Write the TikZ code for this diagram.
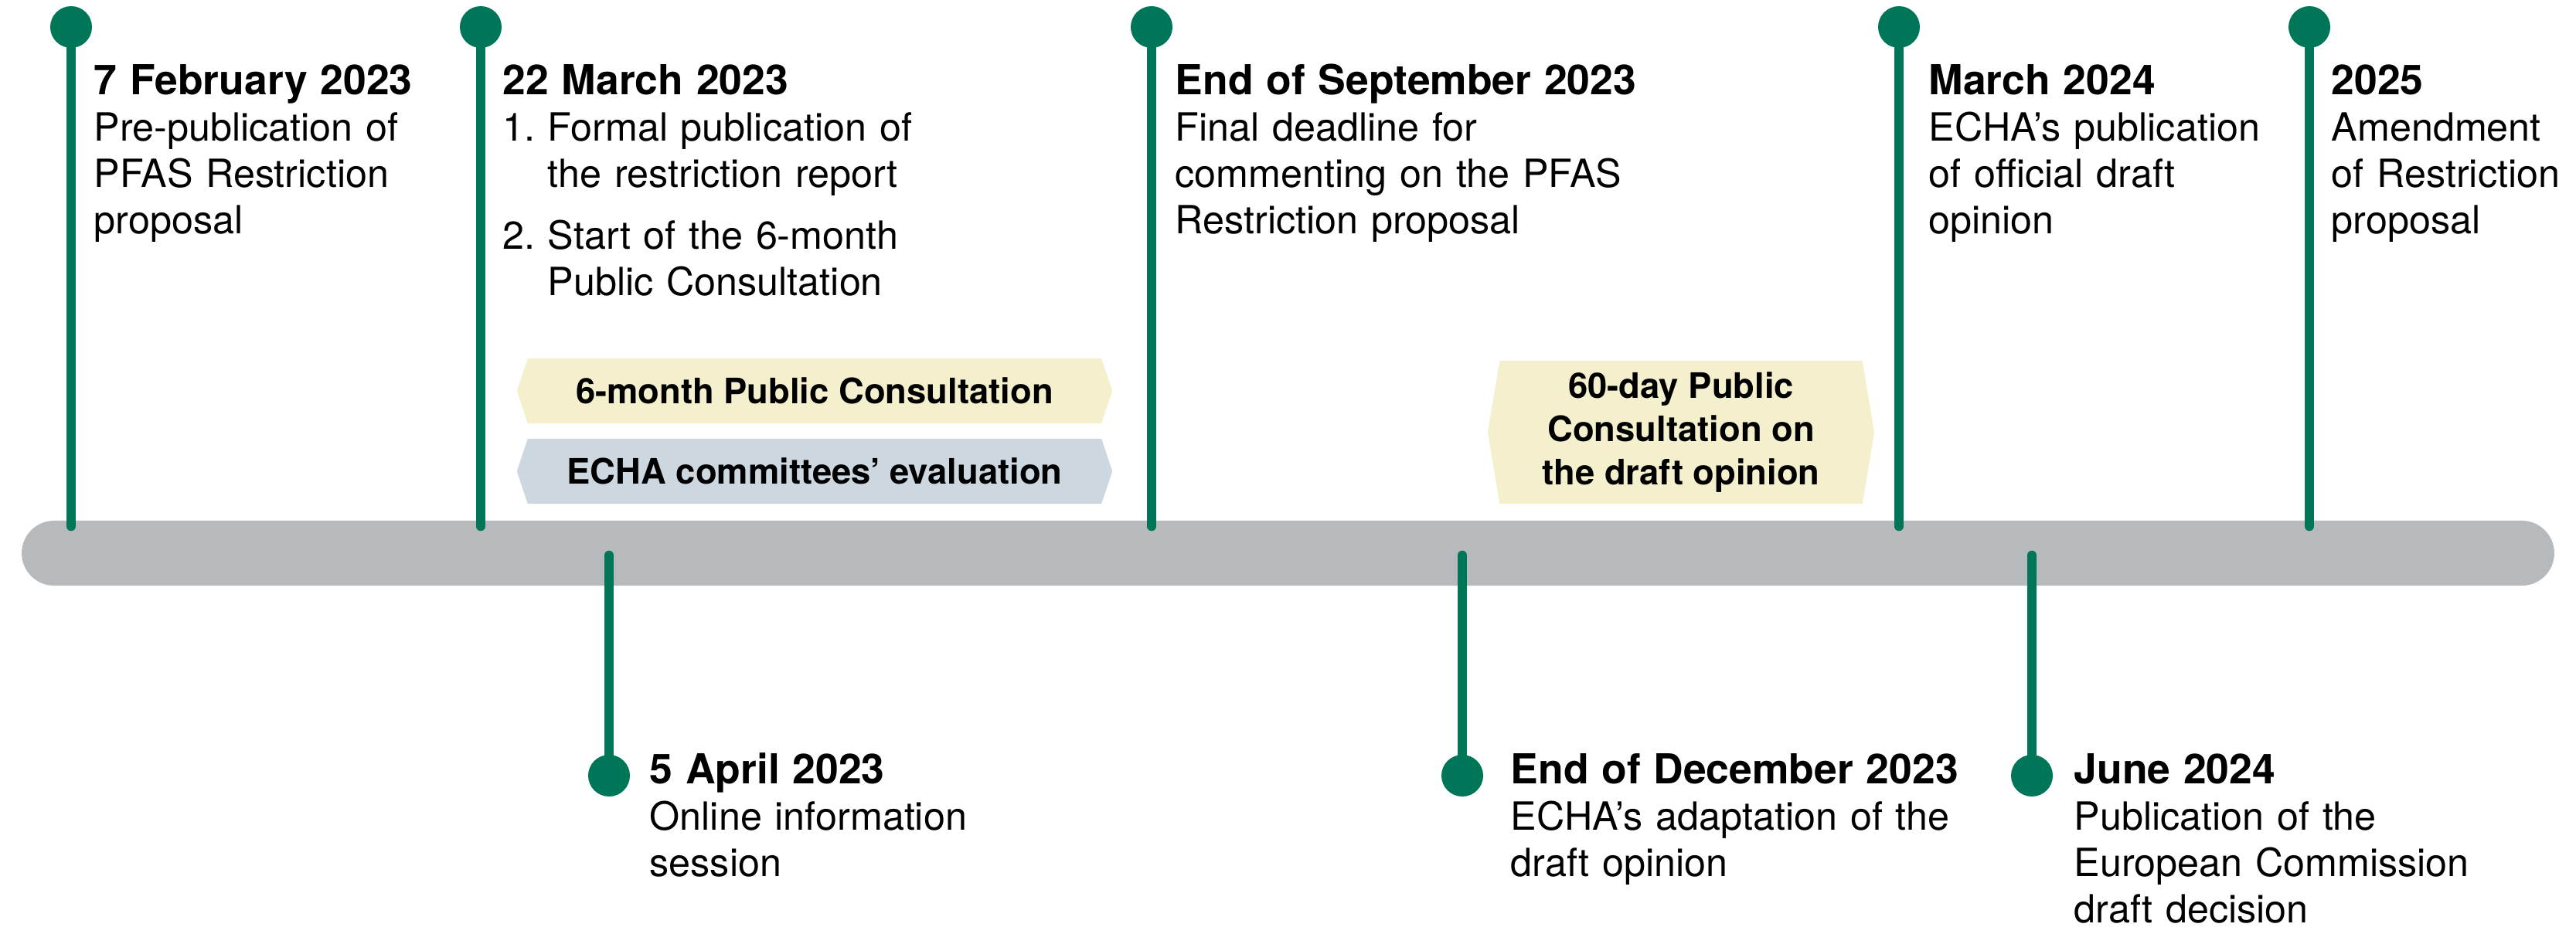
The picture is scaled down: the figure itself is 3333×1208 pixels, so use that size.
\documentclass[tikz,border=0pt]{standalone}
\usepackage{fontspec}
\setmainfont{TeX Gyre Heros}
\usetikzlibrary{shapes.symbols}
\definecolor{echagreen}{RGB}{0,118,89}
\definecolor{bargray}{RGB}{183,186,189}
\definecolor{bandyellow}{RGB}{244,240,205}
\definecolor{bandblue}{RGB}{205,215,224}
\newcommand{\eventdate}[1]{{\fontsize{15.2}{17.07}\selectfont\bfseries #1}}
\tikzset{
  bar/.style={rectangle,fill=bargray,rounded corners=0.42cm,inner sep=0,
    minimum width=32.75cm,minimum height=0.84cm},
  dot/.style={circle,fill=echagreen,inner sep=0,minimum size=0.54cm},
  stem/.style={echagreen,line width=0.12cm,line cap=round},
  event/.style={anchor=base west,inner sep=0,align=left,text width=#1,
    font=\fontsize{14.3}{17.07}\selectfont},
  band/.style={signal,signal to=west and east,inner sep=0,align=center,
    font=\fontsize{12.9}{15.8}\selectfont\bfseries}
}
\begin{document}
\begin{tikzpicture}[x=0.01cm,y=-0.01cm]
\useasboundingbox (0,0) rectangle (3333,1208);
\node[bar] (bar) at (1666.5,716) {};

\node[dot] (feb) at (92,35) {};
\node[dot] (mar) at (622,35) {};
\node[dot] (sep) at (1490,35) {};
\node[dot] (mar24) at (2457,35) {};
\node[dot] (y25) at (2988,35) {};
\node[dot] (apr) at (788,1004) {};
\node[dot] (dec) at (1892,1004) {};
\node[dot] (jun) at (2629,1004) {};

\foreach \d in {feb,mar,sep,mar24,y25}
  \draw[stem] (\d) -- ([yshift=-0.08cm]\d |- bar.north);
\foreach \d in {apr,dec,jun}
  \draw[stem] ([yshift=0.4cm]\d |- bar.south) -- (\d);

\node[event=4.6cm] (feb-text) at (121,122) {\eventdate{7 February 2023}\\Pre-publication of\\PFAS Restriction\\proposal};
\node[event=5.4cm] (mar-text) at (650,122) {\eventdate{22 March 2023}\\\makebox[0.58cm][l]{1.}Formal publication of\\\hspace*{0.58cm}the restriction report\\[0.2cm]\makebox[0.58cm][l]{2.}Start of the 6-month\\\hspace*{0.58cm}Public Consultation};
\node[event=6.3cm] (sep-text) at (1520,122) {\eventdate{End of September 2023}\\Final deadline for\\commenting on the PFAS\\Restriction proposal};
\node[event=4.4cm] (mar24-text) at (2495,122) {\eventdate{March 2024}\\ECHA’s publication\\of official draft\\opinion};
\node[event=3.1cm] (y25-text) at (3016,122) {\eventdate{2025}\\Amendment\\of Restriction\\proposal};
\node[event=4.5cm] (apr-text) at (840,1014) {\eventdate{5 April 2023}\\Online information\\session};
\node[event=6cm] (dec-text) at (1954,1014) {\eventdate{End of December 2023}\\ECHA’s adaptation of the\\draft opinion};
\node[event=6cm] (jun-text) at (2683,1014) {\eventdate{June 2024}\\Publication of the\\European Commission\\draft decision};

\node[band,fill=bandyellow,minimum width=7.7cm,minimum height=0.84cm,signal pointer angle=143] (six) at (1054,506) {6-month Public Consultation};
\node[band,fill=bandblue,minimum width=7.7cm,minimum height=0.84cm,signal pointer angle=143] (eval) at (1054,610) {ECHA committees’ evaluation};
\node[band,fill=bandyellow,minimum width=5cm,minimum height=1.85cm,signal pointer angle=161] (sixty) at (2175,559.5) {60-day Public\\Consultation on\\the draft opinion};
\end{tikzpicture}
\end{document}
